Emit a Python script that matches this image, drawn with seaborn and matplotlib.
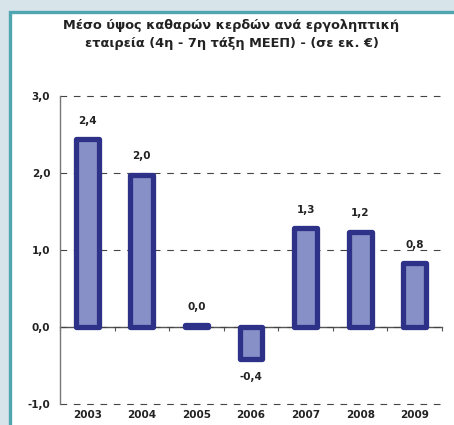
import numpy as np
import pandas as pd
import matplotlib
matplotlib.use("Agg")
import matplotlib.pyplot as plt
from matplotlib.patches import Rectangle
import seaborn as sns

years = ["2003", "2004", "2005", "2006", "2007", "2008", "2009"]
values = [2.44, 1.98, 0.02, -0.42, 1.28, 1.24, 0.83]
value_labels = ["2,4", "2,0", "0,0", "-0,4", "1,3", "1,2", "0,8"]
y_ticks = [-1.0, 0.0, 1.0, 2.0, 3.0]
y_tick_labels = ["-1,0", "0,0", "1,0", "2,0", "3,0"]
title = "Μέσο ύψος καθαρών κερδών ανά εργοληπτική\nεταιρεία (4η - 7η τάξη ΜΕΕΠ) - (σε εκ. €)"

df = pd.DataFrame({"year": years, "value": values})

sns.set_style("white")
plt.rcParams["font.family"] = ["DejaVu Sans"]

fig = plt.figure(figsize=(4.54, 4.25), dpi=100, facecolor="#d7e4ea")
# white panel with teal frame
fig.patches.append(Rectangle((10 / 454, -0.05), 1.1, 1 - 12 / 425 + 0.05,
                             transform=fig.transFigure, facecolor="white",
                             edgecolor="#4fa6b0", linewidth=2.4, zorder=-5))

ax = fig.add_axes([60 / 454, 1 - 404 / 425, 382 / 454, 308 / 425])
ax.set_facecolor("none")
ax.set_zorder(2)

sns.barplot(data=df, x="year", y="value", ax=ax, color="#8890c8",
            width=0.42, edgecolor="#2e3188", linewidth=3.8, saturation=1,
            zorder=3)
for p in ax.patches:
    p.set_joinstyle("round")

ax.set_xlim(-0.5, len(years) - 0.5)
ax.set_ylim(-1, 3)
ax.set_yticks(y_ticks)
ax.set_yticklabels(y_tick_labels, fontsize=7.5, fontweight="bold", color="#222222")
ax.set_xticks(range(len(years)))
ax.set_xticklabels(years, fontsize=7.5, fontweight="bold", color="#222222")
ax.set_xlabel("")
ax.set_ylabel("")

ax.yaxis.grid(True, color="#444444", linestyle=(0, (6, 6)), linewidth=0.8)
for gl in ax.get_ygridlines():
    gl.set_clip_on(False)
ax.set_axisbelow(True)
ax.tick_params(axis="x", length=0, pad=4)
ax.tick_params(axis="y", length=4, width=0.8, color="#666666", pad=3)

for s in ["top", "right", "bottom"]:
    ax.spines[s].set_visible(False)
ax.spines["left"].set_color("#777777")
ax.spines["left"].set_linewidth(1.0)

# zero line with category boundary ticks
zero = ax.secondary_xaxis(0.25)
zero.set_xticks(np.arange(-0.5, len(years)))
zero.set_xticklabels([])
zero.tick_params(length=3, width=0.8, color="#555555")
zero.spines["bottom"].set_color("#555555")
zero.spines["bottom"].set_linewidth(1.0)

for i, (v, lab) in enumerate(zip(values, value_labels)):
    off = 13 if v >= 0 else -13
    ax.annotate(lab, (i, v), xytext=(0, off), textcoords="offset points",
                ha="center", va="center", fontsize=7.5, fontweight="bold",
                color="#222222")

fig.text(0.51, 1 - 35 / 425, title, ha="center", va="center", fontsize=9.3,
         fontweight="bold", color="#222222", linespacing=1.5)

fig.savefig("out.png", dpi=100, facecolor=fig.get_facecolor())
